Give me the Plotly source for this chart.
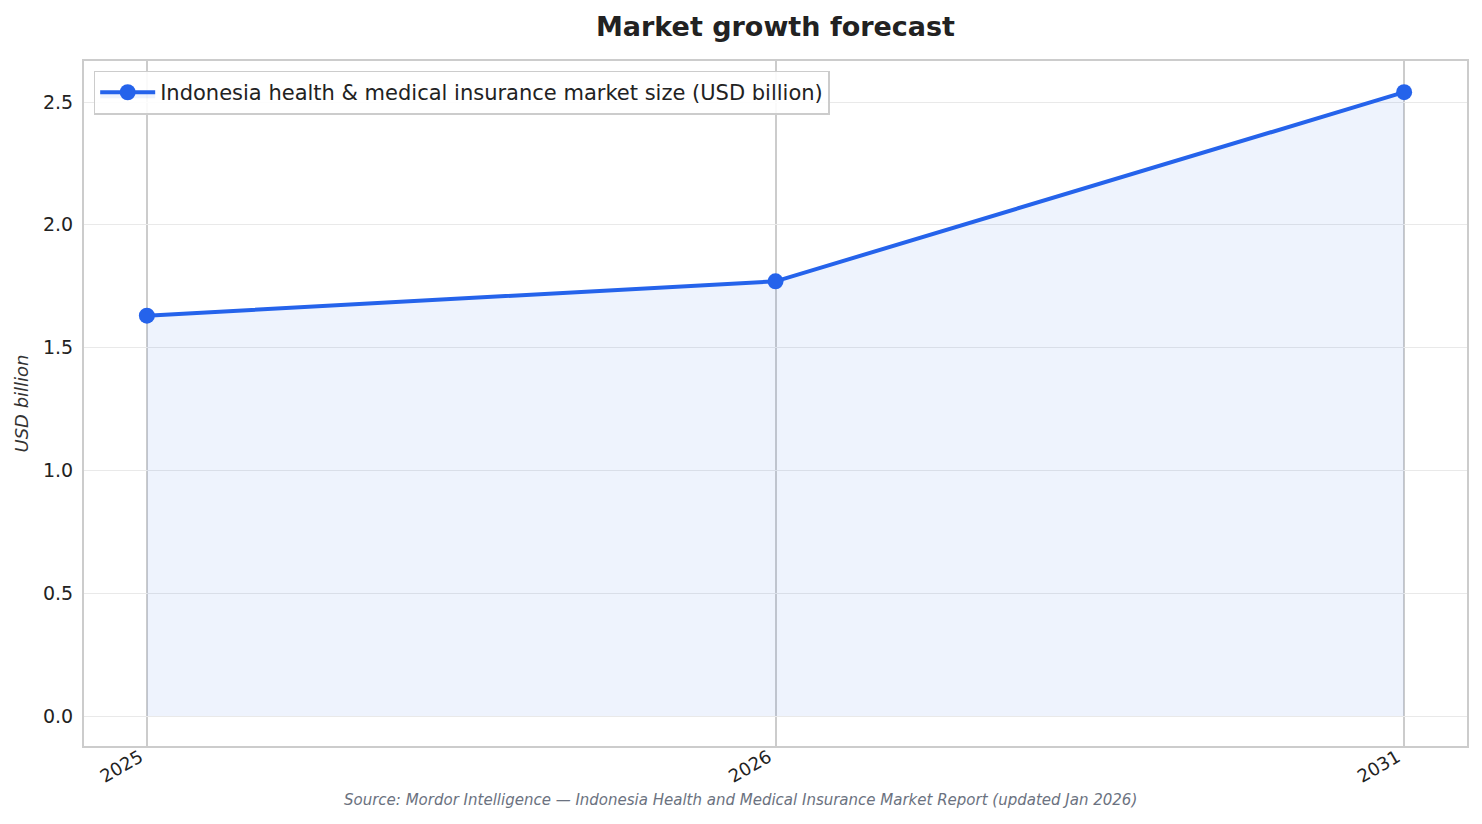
import plotly.graph_objects as go

years = ["2025", "2026", "2031"]
market_size = [1.63, 1.77, 2.54]
series_name = "Indonesia health & medical insurance market size (USD billion)"
y_ticks = [0.0, 0.5, 1.0, 1.5, 2.0, 2.5]
y_tick_labels = ["0.0", "0.5", "1.0", "1.5", "2.0", "2.5"]

FONT = "DejaVu Sans"
BLUE = "#2563eb"

fig = go.Figure()
fig.add_trace(go.Scatter(
    x=years, y=market_size, mode="lines+markers", name=series_name,
    line=dict(color=BLUE, width=4),
    marker=dict(color=BLUE, size=16),
    fill="tozeroy", fillcolor="rgba(37,99,235,0.08)",
))

fig.update_layout(
    width=1474, height=816,
    paper_bgcolor="white", plot_bgcolor="white",
    margin=dict(l=74, r=15, t=53, b=78),
    font=dict(family=FONT, size=19, color="#222"),
    title=dict(text="<b>Market growth forecast</b>", xref="paper", x=0.5, xanchor="center",
               yref="container", y=0.977, yanchor="middle",
               font=dict(size=27, color="#222", family=FONT)),
    showlegend=True,
    legend=dict(x=0.007, y=0.986, xanchor="left", yanchor="top",
                bgcolor="rgba(255,255,255,0.9)", bordercolor="#cccccc", borderwidth=1.5,
                itemwidth=55, font=dict(size=21, color="#222")),
    xaxis=dict(type="category", range=[-0.1, 2.1], tickangle=-30,
               showgrid=True, gridcolor="#cccccc", gridwidth=1.5,
               showline=True, linecolor="#cccccc", linewidth=2, mirror=True,
               ticks="", ticklabelstandoff=-8, ticklabelshift=-7,
               tickfont=dict(size=18, color="#222")),
    yaxis=dict(range=[-0.122, 2.667], tickvals=y_ticks, ticktext=y_tick_labels,
               showgrid=True, gridcolor="#e9e9e9", gridwidth=1,
               zeroline=False,
               showline=True, linecolor="#cccccc", linewidth=2, mirror=True,
               ticks="outside", ticklen=5, tickcolor="rgba(0,0,0,0)",
               tickfont=dict(size=19, color="#222"),
               title=dict(text="<i>USD billion</i>", font=dict(size=18, color="#333"), standoff=10)),
)

fig.add_annotation(
    text="<i>Source: Mordor Intelligence — Indonesia Health and Medical Insurance Market Report (updated Jan 2026)</i>",
    xref="paper", yref="paper", x=0.475, y=-0.079, xanchor="center", yanchor="middle",
    showarrow=False, font=dict(size=15, color="#6b7280", family=FONT),
)

fig.write_html("out.html")
